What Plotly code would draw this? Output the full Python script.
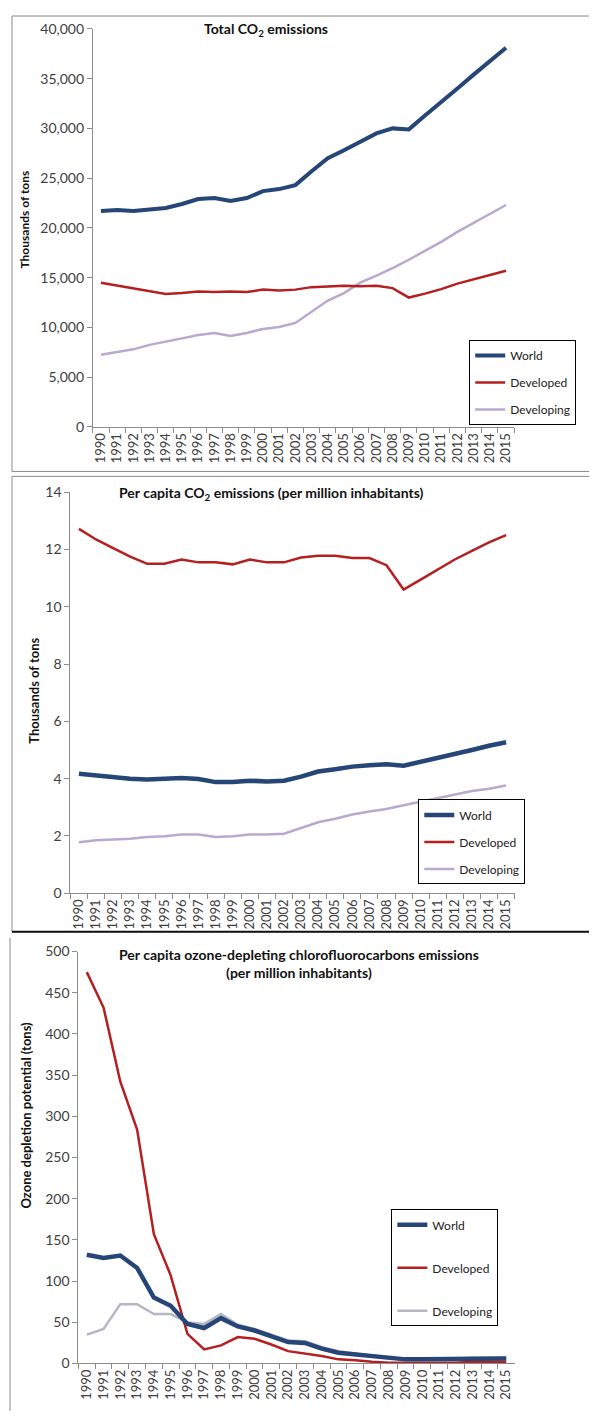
import plotly.graph_objects as go

years = [str(y) for y in range(1990, 2016)]

# Panel 1: Total CO2 emissions (thousands of tons)
total_world = [21700, 21800, 21700, 21900, 22000, 22400, 22900, 23000, 22700, 23000,
               23700, 23900, 24300, 25700, 27000, 27800, 28700, 29500, 30000, 29900,
               31300, 32600, 34000, 35400, 36700, 38100]
total_developed = [14500, 14200, 13900, 13600, 13350, 13450, 13600, 13550, 13600, 13550,
                   13800, 13700, 13800, 14050, 14150, 14200, 14150, 14200, 13950, 13000,
                   13400, 13850, 14400, 14850, 15250, 15700]
total_developing = [7250, 7500, 7800, 8250, 8550, 8900, 9250, 9450, 9150, 9450,
                    9850, 10050, 10450, 11600, 12700, 13450, 14500, 15200, 15950, 16800,
                    17700, 18600, 19600, 20500, 21400, 22300]

# Panel 2: Per capita CO2 emissions
pc_world = [4.17, 4.10, 4.05, 4.00, 3.97, 4.00, 4.02, 3.99, 3.88, 3.88,
            3.93, 3.90, 3.93, 4.07, 4.25, 4.33, 4.42, 4.47, 4.50, 4.45,
            4.58, 4.72, 4.87, 5.00, 5.15, 5.27]
pc_developed = [12.72, 12.35, 12.05, 11.75, 11.50, 11.50, 11.65, 11.55, 11.55, 11.48,
                11.65, 11.55, 11.55, 11.72, 11.78, 11.78, 11.70, 11.70, 11.45, 10.60,
                10.95, 11.30, 11.65, 11.95, 12.25, 12.50]
pc_developing = [1.78, 1.85, 1.88, 1.90, 1.96, 1.99, 2.05, 2.05, 1.96, 1.99,
                 2.05, 2.05, 2.08, 2.28, 2.48, 2.60, 2.75, 2.85, 2.94, 3.07,
                 3.20, 3.32, 3.45, 3.57, 3.65, 3.76]

# Panel 3: Per capita ozone-depleting CFC emissions
cfc_world = [132, 128, 131, 116, 80, 70, 48, 43, 55, 45,
             40, 33, 26, 25, 18, 13, 11, 8, 6, 5,
             5, 5, 5, 6, 6, 6]
cfc_developed = [475, 432, 342, 284, 157, 107, 36, 17, 22, 32,
                 30, 23, 15, 12, 9, 5, 4, 2, 1, 1,
                 1, 1, 1, 2, 2, 2]
cfc_developing = [35, 42, 72, 72, 60, 60, 50, 48, 60, 47,
                  42, 35, 28, 27, 20, 15, 12, 9, 7, 6,
                  6, 6, 6, 7, 7, 7]

series_names = ["World", "Developed", "Developing"]

# page body margin is 8px; figure sized to fit inside the window
OFF = 8
W, H = 597 - 2 * OFF, 1419 - 2 * OFF
FONT = "Lato, Open Sans, sans-serif"
TICKC = "#404040"
AXC = "#8c8c8c"
WORLD_C = "#254677"
DEV_C = "#b51f1f"
DEVG_C = "#b7a9cf"
DEVG_C3 = "#b6b6c4"


def px(x):
    return (x - OFF) / W


def py(y):
    return 1 - (y - OFF) / H


fig = go.Figure()

panels = [
    dict(data=[total_world, total_developed, total_developing], xd=(92, 514), yd=(423, 20),
         rng=[0, 40000], dtick=5000, fmt=",d", leg=(469, 335), cols=[WORLD_C, DEV_C, DEVG_C],
         widths=[4, 2.5, 2.5], gap=8, lfs=12),
    dict(data=[pc_world, pc_developed, pc_developing], xd=(69.5, 514.5), yd=(895, 489),
         rng=[0, 14], dtick=2, fmt="d", leg=(418, 800), cols=[WORLD_C, DEV_C, DEVG_C],
         widths=[4.5, 2.5, 2.5], gap=8, lfs=12),
    dict(data=[cfc_world, cfc_developed, cfc_developing], xd=(77.5, 514.5), yd=(1371, 954),
         rng=[0, 500], dtick=50, fmt="d", leg=(391, 1215), cols=[WORLD_C, DEV_C, DEVG_C3],
         widths=[4.5, 2.5, 2.5], gap=24, lfs=12),
]

for i, p in enumerate(panels, start=1):
    xa = "x" if i == 1 else f"x{i}"
    ya = "y" if i == 1 else f"y{i}"
    lg = "legend" if i == 1 else f"legend{i}"
    for k in [2, 1, 0]:
        fig.add_trace(go.Scatter(
            x=years, y=p["data"][k], mode="lines", name=series_names[k],
            line=dict(color=p["cols"][k], width=p["widths"][k]),
            xaxis=xa, yaxis=ya, legend=lg, legendgroup=f"g{i}{k}", legendrank=k + 1,
            hoverinfo="skip"))

    axkey_x = "xaxis" if i == 1 else f"xaxis{i}"
    axkey_y = "yaxis" if i == 1 else f"yaxis{i}"
    fig.update_layout(**{
        axkey_x: dict(domain=[px(p["xd"][0]), px(p["xd"][1])], anchor=ya, type="category",
                      range=[-0.5, 25.5], showgrid=False, showline=True, linecolor=AXC,
                      linewidth=1, ticks="outside", tickson="boundaries", ticklen=5,
                      tickcolor=AXC, tickangle=-90, tickfont=dict(family=FONT, size=13, color=TICKC),
                      zeroline=False, fixedrange=True),
        axkey_y: dict(domain=[py(p["yd"][0]), py(p["yd"][1])], anchor=xa, range=p["rng"],
                      dtick=p["dtick"], tickformat=p["fmt"], showgrid=False, showline=True,
                      linecolor=AXC, linewidth=1, ticks="outside", ticklen=5, tickcolor=AXC,
                      tickfont=dict(family=FONT, size=14, color=TICKC), zeroline=False,
                      fixedrange=True),
        lg: dict(x=px(p["leg"][0]), y=py(p["leg"][1]), xanchor="left", yanchor="top",
                 bordercolor="#000000", borderwidth=1, bgcolor="white",
                 font=dict(family=FONT, size=p["lfs"], color="#222222"),
                 tracegroupgap=p["gap"], itemwidth=30),
    })


def note(text, x, y, size, angle=0):
    fig.add_annotation(text=text, x=px(x), y=py(y), xref="paper", yref="paper",
                       xanchor="center", yanchor="middle", textangle=angle, showarrow=False,
                       font=dict(family=FONT, size=size, color="#111"))


# Axis titles
note("<b>Thousands of tons</b>", 24, 213, 12, -90)
note("<b>Thousands of tons</b>", 33, 690, 13, -90)
note("<b>Ozone depletion potential (tons)</b>", 25, 1119, 13, -90)

# Chart titles
note("<b>Total CO<sub>2</sub> emissions</b>", 265, 21, 14)
note("<b>Per capita CO<sub>2</sub> emissions (per million inhabitants)</b>", 271, 490, 14)
note("<b>Per capita ozone-depleting chlorofluorocarbons emissions<br>(per million inhabitants)</b>",
     299, 966, 14)

# Panel frames
fig.add_shape(type="rect", xref="paper", yref="paper", x0=px(11), x1=px(620), y0=py(468), y1=py(7),
              line=dict(color="#888888", width=1))
fig.add_shape(type="rect", xref="paper", yref="paper", x0=px(11), x1=px(620), y0=py(934), y1=py(473),
              line=dict(color="#888888", width=1))
fig.add_shape(type="line", xref="paper", yref="paper", x0=px(11), x1=px(620), y0=py(934), y1=py(934),
              line=dict(color="#111111", width=2))
fig.add_shape(type="line", xref="paper", yref="paper", x0=px(9), x1=px(9), y0=py(940), y1=py(1419),
              line=dict(color="#888888", width=1))

fig.update_layout(width=W, height=H, margin=dict(l=0, r=0, t=0, b=0), paper_bgcolor="white",
                  plot_bgcolor="white", showlegend=True)

fig.write_html("out.html")
